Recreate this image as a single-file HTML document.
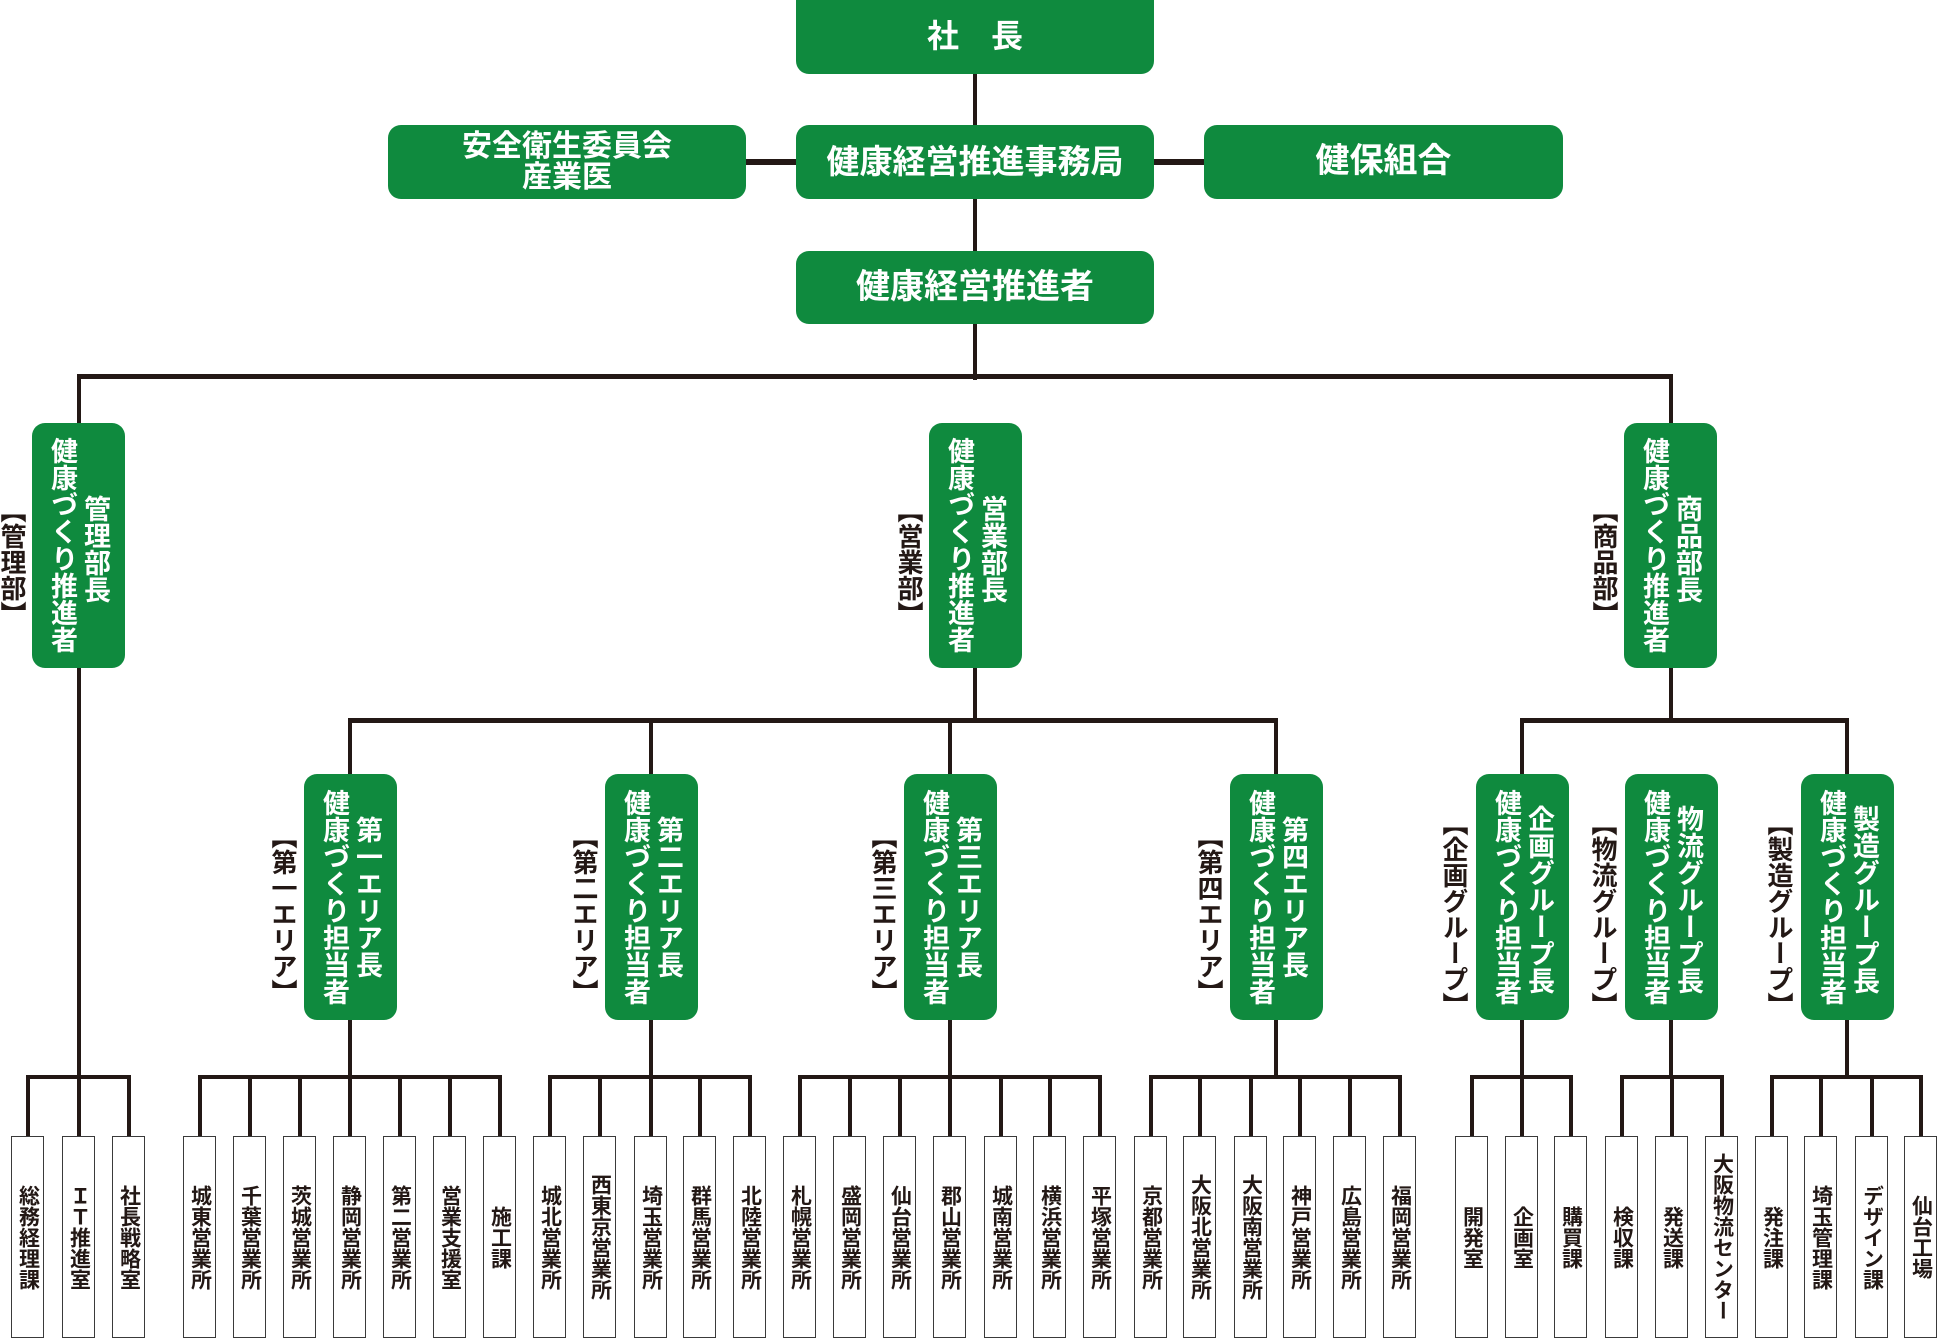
<!DOCTYPE html>
<html><head><meta charset="utf-8"><style>
body{margin:0;width:1940px;height:1329px;background:#fff;position:relative;overflow:hidden;font-family:"Liberation Sans","Noto Sans CJK JP",sans-serif;}
.g{position:absolute;background:#0f8a3e;border-radius:13px;}
.tb{position:absolute;color:#fff;font-weight:bold;display:flex;align-items:center;justify-content:center;text-align:center;line-height:1.05;}
.v{position:absolute;writing-mode:vertical-rl;font-weight:bold;font-size:27px;line-height:27px;width:27px;color:#fff;}
.lb{position:absolute;writing-mode:vertical-rl;font-weight:bold;font-size:26px;line-height:26px;width:26px;color:#231815;}
.l{position:absolute;background:#231815;}
.leaf{position:absolute;top:1136px;width:31px;height:200px;border:1.6px solid #3a3a3a;background:#fff;display:flex;align-items:center;justify-content:center;}
.leaf span{writing-mode:vertical-rl;font-size:21px;line-height:22px;font-weight:bold;color:#231815;}
</style></head><body>
<!-- lines -->
<div class="l" style="left:973px;top:70px;width:4px;height:310px"></div>
<div class="l" style="left:746px;top:159px;width:458px;height:6px"></div>
<div class="l" style="left:77px;top:374px;width:1596px;height:5px"></div>
<div class="l" style="left:77px;top:376px;width:4px;height:702px"></div>
<div class="l" style="left:1669px;top:376px;width:4px;height:50px"></div>
<div class="l" style="left:973px;top:660px;width:4px;height:62px"></div>
<div class="l" style="left:348px;top:718px;width:930px;height:5px"></div>
<div class="l" style="left:348px;top:720px;width:4px;height:56px"></div>
<div class="l" style="left:649px;top:720px;width:4px;height:56px"></div>
<div class="l" style="left:948px;top:720px;width:4px;height:56px"></div>
<div class="l" style="left:1274px;top:720px;width:4px;height:56px"></div>
<div class="l" style="left:1669px;top:660px;width:4px;height:62px"></div>
<div class="l" style="left:1520px;top:718px;width:329px;height:5px"></div>
<div class="l" style="left:1520px;top:720px;width:4px;height:56px"></div>
<div class="l" style="left:1845px;top:720px;width:4px;height:56px"></div>
<!-- area to leaf verticals -->
<div class="l" style="left:348px;top:1015px;width:4px;height:62px"></div>
<div class="l" style="left:649px;top:1015px;width:4px;height:62px"></div>
<div class="l" style="left:948px;top:1015px;width:4px;height:62px"></div>
<div class="l" style="left:1274px;top:1015px;width:4px;height:62px"></div>
<div class="l" style="left:1520px;top:1015px;width:4px;height:62px"></div>
<div class="l" style="left:1669px;top:1015px;width:4px;height:62px"></div>
<div class="l" style="left:1845px;top:1015px;width:4px;height:62px"></div>
<!-- leaf horizontals -->
<div class="l" style="left:26px;top:1075px;width:105px;height:4px"></div>
<div class="l" style="left:198px;top:1075px;width:304px;height:4px"></div>
<div class="l" style="left:548px;top:1075px;width:204px;height:4px"></div>
<div class="l" style="left:798px;top:1075px;width:304px;height:4px"></div>
<div class="l" style="left:1149px;top:1075px;width:253px;height:4px"></div>
<div class="l" style="left:1470px;top:1075px;width:103px;height:4px"></div>
<div class="l" style="left:1620px;top:1075px;width:104px;height:4px"></div>
<div class="l" style="left:1770px;top:1075px;width:153px;height:4px"></div>

<!-- top boxes -->
<div class="g" style="left:796px;top:-13px;width:358px;height:87px"></div>
<div class="tb" style="left:796px;top:0;width:358px;height:74px;font-size:32px;">社　長</div>
<div class="g" style="left:388px;top:125px;width:358px;height:74px"></div>
<div class="tb" style="left:388px;top:125px;width:358px;height:74px;font-size:30px;">安全衛生委員会<br>産業医</div>
<div class="g" style="left:796px;top:125px;width:358px;height:74px"></div>
<div class="tb" style="left:796px;top:125px;width:358px;height:74px;font-size:33px;">健康経営推進事務局</div>
<div class="g" style="left:1204px;top:125px;width:359px;height:74px"></div>
<div class="tb" style="left:1204px;top:125px;width:359px;height:74px;font-size:34px;">健保組合</div>
<div class="g" style="left:796px;top:251px;width:358px;height:73px"></div>
<div class="tb" style="left:796px;top:251px;width:358px;height:73px;font-size:34px;">健康経営推進者</div>

<!-- dept boxes -->
<div class="g" style="left:32px;top:423px;width:93px;height:245px"></div>
<div class="v" style="left:48px;top:437px">健康づくり推進者</div>
<div class="v" style="left:81px;top:495px">管理部長</div>
<div class="lb" style="left:-1px;top:497px">【管理部】</div>

<div class="g" style="left:929px;top:423px;width:93px;height:245px"></div>
<div class="v" style="left:945px;top:437px">健康づくり推進者</div>
<div class="v" style="left:978px;top:495px">営業部長</div>
<div class="lb" style="left:896px;top:497px">【営業部】</div>

<div class="g" style="left:1624px;top:423px;width:93px;height:245px"></div>
<div class="v" style="left:1640px;top:437px">健康づくり推進者</div>
<div class="v" style="left:1673px;top:495px">商品部長</div>
<div class="lb" style="left:1591px;top:497px">【商品部】</div>

<!-- area boxes -->
<div class="g" style="left:304px;top:774px;width:93px;height:246px"></div>
<div class="v" style="left:320px;top:789px">健康づくり担当者</div>
<div class="v" style="left:353px;top:816px">第一エリア長</div>
<div class="lb" style="left:270px;top:823px">【第一エリア】</div>

<div class="g" style="left:605px;top:774px;width:93px;height:246px"></div>
<div class="v" style="left:621px;top:789px">健康づくり担当者</div>
<div class="v" style="left:654px;top:816px">第二エリア長</div>
<div class="lb" style="left:571px;top:823px">【第二エリア】</div>

<div class="g" style="left:904px;top:774px;width:93px;height:246px"></div>
<div class="v" style="left:920px;top:789px">健康づくり担当者</div>
<div class="v" style="left:953px;top:816px">第三エリア長</div>
<div class="lb" style="left:870px;top:823px">【第三エリア】</div>

<div class="g" style="left:1230px;top:774px;width:93px;height:246px"></div>
<div class="v" style="left:1246px;top:789px">健康づくり担当者</div>
<div class="v" style="left:1279px;top:816px">第四エリア長</div>
<div class="lb" style="left:1196px;top:823px">【第四エリア】</div>

<div class="g" style="left:1476px;top:774px;width:93px;height:246px"></div>
<div class="v" style="left:1492px;top:789px">健康づくり担当者</div>
<div class="v" style="left:1525px;top:805px">企画グループ長</div>
<div class="lb" style="left:1441px;top:810px">【企画グループ】</div>

<div class="g" style="left:1625px;top:774px;width:93px;height:246px"></div>
<div class="v" style="left:1641px;top:789px">健康づくり担当者</div>
<div class="v" style="left:1674px;top:805px">物流グループ長</div>
<div class="lb" style="left:1590px;top:810px">【物流グループ】</div>

<div class="g" style="left:1801px;top:774px;width:93px;height:246px"></div>
<div class="v" style="left:1817px;top:789px">健康づくり担当者</div>
<div class="v" style="left:1850px;top:805px">製造グループ長</div>
<div class="lb" style="left:1766px;top:810px">【製造グループ】</div>

<!-- leaves -->
<div class="l" style="left:26px;top:1077px;width:4px;height:60px"></div><div class="leaf" style="left:11px"><span>総務経理課</span></div>
<div class="l" style="left:77px;top:1077px;width:4px;height:60px"></div><div class="leaf" style="left:62px"><span>ＩＴ推進室</span></div>
<div class="l" style="left:127px;top:1077px;width:4px;height:60px"></div><div class="leaf" style="left:112px"><span>社長戦略室</span></div>

<div class="l" style="left:198px;top:1077px;width:4px;height:60px"></div><div class="leaf" style="left:183px"><span>城東営業所</span></div>
<div class="l" style="left:248px;top:1077px;width:4px;height:60px"></div><div class="leaf" style="left:233px"><span>千葉営業所</span></div>
<div class="l" style="left:298px;top:1077px;width:4px;height:60px"></div><div class="leaf" style="left:283px"><span>茨城営業所</span></div>
<div class="l" style="left:348px;top:1077px;width:4px;height:60px"></div><div class="leaf" style="left:333px"><span>静岡営業所</span></div>
<div class="l" style="left:398px;top:1077px;width:4px;height:60px"></div><div class="leaf" style="left:383px"><span>第二営業所</span></div>
<div class="l" style="left:448px;top:1077px;width:4px;height:60px"></div><div class="leaf" style="left:433px"><span>営業支援室</span></div>
<div class="l" style="left:498px;top:1077px;width:4px;height:60px"></div><div class="leaf" style="left:483px"><span>施工課</span></div>

<div class="l" style="left:548px;top:1077px;width:4px;height:60px"></div><div class="leaf" style="left:533px"><span>城北営業所</span></div>
<div class="l" style="left:598px;top:1077px;width:4px;height:60px"></div><div class="leaf" style="left:583px"><span>西東京営業所</span></div>
<div class="l" style="left:649px;top:1077px;width:4px;height:60px"></div><div class="leaf" style="left:634px"><span>埼玉営業所</span></div>
<div class="l" style="left:698px;top:1077px;width:4px;height:60px"></div><div class="leaf" style="left:683px"><span>群馬営業所</span></div>
<div class="l" style="left:748px;top:1077px;width:4px;height:60px"></div><div class="leaf" style="left:733px"><span>北陸営業所</span></div>

<div class="l" style="left:798px;top:1077px;width:4px;height:60px"></div><div class="leaf" style="left:783px"><span>札幌営業所</span></div>
<div class="l" style="left:848px;top:1077px;width:4px;height:60px"></div><div class="leaf" style="left:833px"><span>盛岡営業所</span></div>
<div class="l" style="left:898px;top:1077px;width:4px;height:60px"></div><div class="leaf" style="left:883px"><span>仙台営業所</span></div>
<div class="l" style="left:948px;top:1077px;width:4px;height:60px"></div><div class="leaf" style="left:933px"><span>郡山営業所</span></div>
<div class="l" style="left:999px;top:1077px;width:4px;height:60px"></div><div class="leaf" style="left:984px"><span>城南営業所</span></div>
<div class="l" style="left:1048px;top:1077px;width:4px;height:60px"></div><div class="leaf" style="left:1033px"><span>横浜営業所</span></div>
<div class="l" style="left:1098px;top:1077px;width:4px;height:60px"></div><div class="leaf" style="left:1083px"><span>平塚営業所</span></div>

<div class="l" style="left:1149px;top:1077px;width:4px;height:60px"></div><div class="leaf" style="left:1134px"><span>京都営業所</span></div>
<div class="l" style="left:1198px;top:1077px;width:4px;height:60px"></div><div class="leaf" style="left:1183px"><span>大阪北営業所</span></div>
<div class="l" style="left:1249px;top:1077px;width:4px;height:60px"></div><div class="leaf" style="left:1234px"><span>大阪南営業所</span></div>
<div class="l" style="left:1298px;top:1077px;width:4px;height:60px"></div><div class="leaf" style="left:1283px"><span>神戸営業所</span></div>
<div class="l" style="left:1348px;top:1077px;width:4px;height:60px"></div><div class="leaf" style="left:1333px"><span>広島営業所</span></div>
<div class="l" style="left:1398px;top:1077px;width:4px;height:60px"></div><div class="leaf" style="left:1383px"><span>福岡営業所</span></div>

<div class="l" style="left:1470px;top:1077px;width:4px;height:60px"></div><div class="leaf" style="left:1455px"><span>開発室</span></div>
<div class="l" style="left:1520px;top:1077px;width:4px;height:60px"></div><div class="leaf" style="left:1505px"><span>企画室</span></div>
<div class="l" style="left:1569px;top:1077px;width:4px;height:60px"></div><div class="leaf" style="left:1554px"><span>購買課</span></div>

<div class="l" style="left:1620px;top:1077px;width:4px;height:60px"></div><div class="leaf" style="left:1605px"><span>検収課</span></div>
<div class="l" style="left:1670px;top:1077px;width:4px;height:60px"></div><div class="leaf" style="left:1655px"><span>発送課</span></div>
<div class="l" style="left:1720px;top:1077px;width:4px;height:60px"></div><div class="leaf" style="left:1705px"><span>大阪物流センター</span></div>

<div class="l" style="left:1770px;top:1077px;width:4px;height:60px"></div><div class="leaf" style="left:1755px"><span>発注課</span></div>
<div class="l" style="left:1819px;top:1077px;width:4px;height:60px"></div><div class="leaf" style="left:1804px"><span>埼玉管理課</span></div>
<div class="l" style="left:1870px;top:1077px;width:4px;height:60px"></div><div class="leaf" style="left:1855px"><span>デザイン課</span></div>
<div class="l" style="left:1919px;top:1077px;width:4px;height:60px"></div><div class="leaf" style="left:1904px"><span>仙台工場</span></div>
</body></html>
